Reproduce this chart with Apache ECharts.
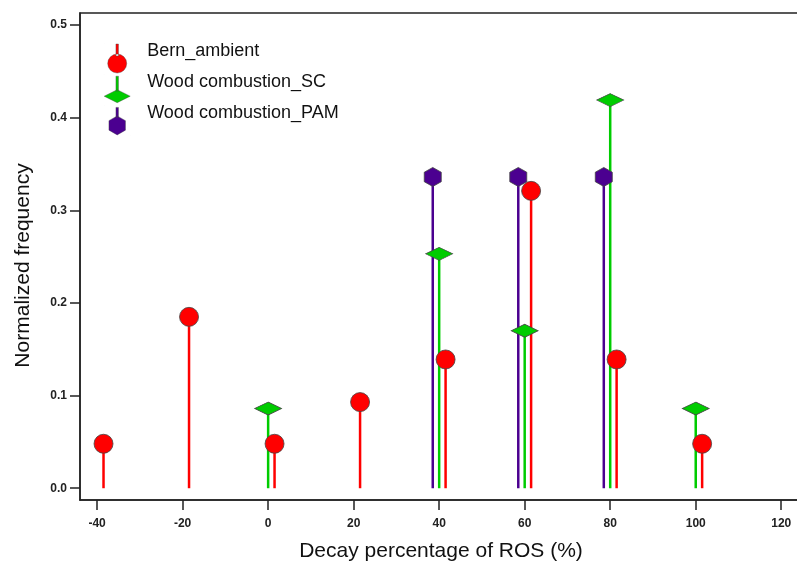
<!DOCTYPE html>
<html>
<head>
<meta charset="utf-8">
<script src="https://cdn.jsdelivr.net/npm/echarts@6/dist/echarts.min.js"></script>
<style>
  html, body { margin: 0; padding: 0; background: #fff; overflow: hidden; }
  /* the plot frame runs past the right edge of the picture */
  #chart { width: 840px; height: 567px; }
</style>
</head>
<body>
<div id="chart"></div>
<script>
// values
const bernX = [-38.5, -18.5, 1.5, 21.5, 41.5, 61.5, 81.5, 101.5];
const bernY = [0.048, 0.185, 0.048, 0.093, 0.139, 0.321, 0.139, 0.048];
const scX = [0, 40, 60, 80, 100];
const scY = [0.086, 0.253, 0.170, 0.419, 0.086];
const pamX = [38.5, 58.5, 78.5];
const pamY = [0.336, 0.336, 0.336];
const xTicks = [-40, -20, 0, 20, 40, 60, 80, 100, 120];
const yTicks = [0, 0.1, 0.2, 0.3, 0.4, 0.5];

const RED = "#ff0000";
const GREEN = "#00cc00";
const PURPLE = "#4b0090";
const EDGE = "#444";
const FONT = "Liberation Sans, Arial, sans-serif";

const pairs = (xs, ys) => xs.map((x, i) => [x, ys[i]]);

const hexPath = "path://M8.5,0 L17,4.75 L17,14.25 L8.5,19 L0,14.25 L0,4.75 Z";

// legend icons: stem on top of the marker, all in a 26x30 box
const anchor = "M0,0 L0.01,0 L0,0.01 Z M26,30 L25.99,30 L26,29.99 Z ";
const iconBern = "path://" + anchor +
  "M11.75,1 L14.25,1 L14.25,13 L11.75,13 Z M3.5,20.5 A9.5,9.5 0 1,0 22.5,20.5 A9.5,9.5 0 1,0 3.5,20.5 Z";
const iconSC = "path://" + anchor +
  "M11.75,2 L14.25,2 L14.25,17 L11.75,17 Z M0,22 L13,15.5 L26,22 L13,28.5 Z";
const iconPAM = "path://" + anchor +
  "M11.75,2 L14.25,2 L14.25,12 L11.75,12 Z M13,10.5 L21.25,15.25 L21.25,24.75 L13,29.5 L4.75,24.75 L4.75,15.25 Z";

function stems(name, data, color) {
  return {
    name: name,
    type: "custom",
    data: data,
    silent: true,
    renderItem: function (params, api) {
      const top = api.coord([api.value(0), api.value(1)]);
      const base = api.coord([api.value(0), 0]);
      return {
        type: "line",
        shape: { x1: top[0], y1: top[1], x2: base[0], y2: base[1] },
        style: { stroke: color, lineWidth: 2.5 }
      };
    }
  };
}

function markers(name, data, color, symbol, size) {
  return {
    name: name,
    type: "scatter",
    data: data,
    symbol: symbol,
    symbolSize: size,
    itemStyle: { color: color, borderColor: EDGE, borderWidth: 0.8, opacity: 1 }
  };
}

const chart = echarts.init(document.getElementById("chart"));
chart.setOption({
  animation: false,
  backgroundColor: "#fff",
  grid: {
    left: 80, top: 13, width: 744, height: 487,
    show: true, borderColor: "#222", borderWidth: 1.5
  },
  legend: {
    orient: "vertical",
    left: 99, top: 37,
    itemWidth: 26, itemHeight: 30, itemGap: 0,
    formatter: "{t|{name}}",
    textStyle: {
      fontFamily: FONT, fontSize: 18, color: "#111",
      rich: { t: { fontFamily: FONT, fontSize: 18, color: "#111", padding: [0, 0, 14, 12] } }
    },
    itemStyle: { borderWidth: 0.4, borderColor: EDGE },
    data: [
      { name: "Bern_ambient", icon: iconBern, itemStyle: { color: RED } },
      { name: "Wood combustion_SC", icon: iconSC, itemStyle: { color: GREEN } },
      { name: "Wood combustion_PAM", icon: iconPAM, itemStyle: { color: PURPLE } }
    ]
  },
  xAxis: {
    type: "value",
    min: -44, max: 130,
    splitLine: { show: false },
    axisLine: { show: true, onZero: false, lineStyle: { color: "#222", width: 1.5 } },
    axisTick: { show: true, customValues: xTicks, length: 10, lineStyle: { color: "#222", width: 1.5 } },
    axisLabel: {
      customValues: xTicks, margin: 18,
      fontFamily: FONT, fontSize: 12, fontWeight: "bold", color: "#222"
    },
    name: "Decay percentage of ROS (%)",
    nameLocation: "middle",
    nameGap: 41,
    nameTextStyle: { fontFamily: FONT, fontSize: 21, color: "#111", padding: [0, 22, 0, 0] }
  },
  yAxis: {
    type: "value",
    min: -0.0127, max: 0.513,
    splitLine: { show: false },
    axisLine: { show: true, onZero: false, lineStyle: { color: "#222", width: 1.5 } },
    axisTick: { show: true, customValues: yTicks, length: 10, lineStyle: { color: "#222", width: 1.5 } },
    axisLabel: {
      customValues: yTicks, margin: 13,
      formatter: v => v.toFixed(1),
      fontFamily: FONT, fontSize: 12, fontWeight: "bold", color: "#222"
    },
    name: "Normalized frequency",
    nameLocation: "middle",
    nameGap: 46,
    nameTextStyle: { fontFamily: FONT, fontSize: 21, color: "#111", padding: [0, 18, 0, 0] }
  },
  series: [
    stems("Wood combustion_PAM", pairs(pamX, pamY), PURPLE),
    markers("Wood combustion_PAM", pairs(pamX, pamY), PURPLE, hexPath, [17, 19]),
    stems("Bern_ambient", pairs(bernX, bernY), RED),
    markers("Bern_ambient", pairs(bernX, bernY), RED, "circle", 19),
    stems("Wood combustion_SC", pairs(scX, scY), GREEN),
    markers("Wood combustion_SC", pairs(scX, scY), GREEN, "diamond", [27, 13])
  ]
});
</script>
</body>
</html>
